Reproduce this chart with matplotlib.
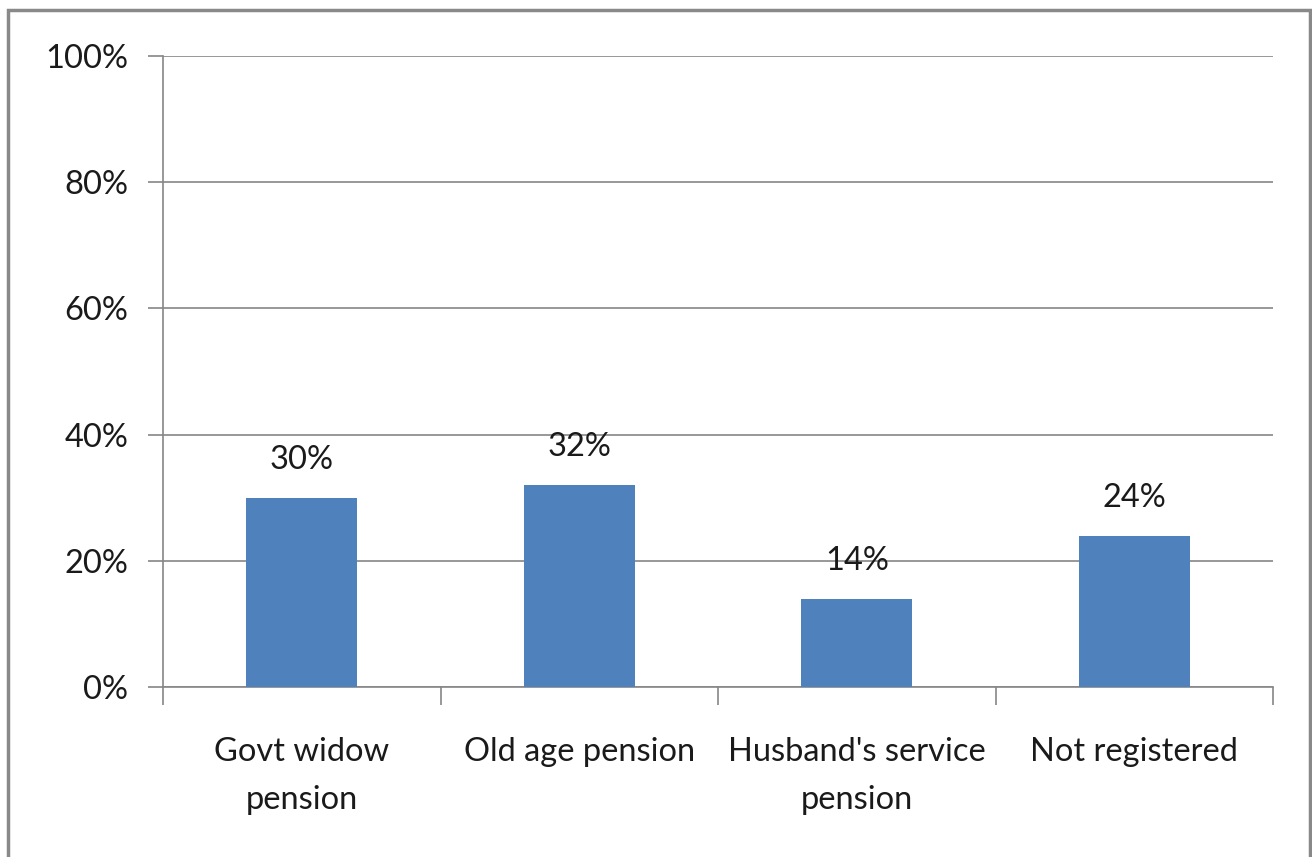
import matplotlib

matplotlib.use("Agg")
import matplotlib.pyplot as plt
from matplotlib.patches import Rectangle
from matplotlib.ticker import MultipleLocator, FuncFormatter

categories = ["Govt widow\npension", "Old age pension", "Husband's service\npension", "Not registered"]
shares = [30, 32, 14, 24]

W, H = 1312, 857
fig = plt.figure(figsize=(W / 100, H / 100), dpi=100)
plt.rcParams["font.family"] = ["Lato", "DejaVu Sans"]

grey = "#868686"
txt = "#1a1a1a"
left, right, top, bottom = 163, 1273, 56, 687
ax = fig.add_axes([left / W, 1 - bottom / H, (right - left) / W, (bottom - top) / H])

x = list(range(len(categories)))
ax.bar(x, shares, width=0.4, color="#4F81BD", zorder=3)
for xi, v in zip(x, shares):
    ax.text(xi, v + 3.6, f"{v}%", ha="center", va="bottom", fontsize=23.5, color=txt)

ax.set_xlim(-0.5, len(categories) - 0.5)
ax.set_ylim(0, 100)
ax.yaxis.set_major_locator(MultipleLocator(20))
ax.yaxis.set_major_formatter(FuncFormatter(lambda v, _: f"{v:.0f}%"))
ax.grid(axis="y", color=grey, lw=1.2, zorder=0)

ax.set_xticks([i - 0.5 for i in range(len(categories) + 1)])
ax.set_xticklabels([])
ax.set_xticks(x, minor=True)
ax.set_xticklabels(categories, minor=True, fontsize=23.5, color=txt, linespacing=1.73)
ax.tick_params(axis="x", which="minor", length=0, pad=36)
ax.tick_params(axis="x", which="major", length=13, width=1.2, color=grey)
ax.tick_params(axis="y", length=11, width=1.2, color=grey, labelsize=23.5, labelcolor=txt, pad=14)

for s in ["top", "right"]:
    ax.spines[s].set_visible(False)
for s in ["left", "bottom"]:
    ax.spines[s].set_color(grey)
    ax.spines[s].set_linewidth(1.2)

fig.patches.append(Rectangle((8 / W, -0.05), 1302 / W, 1.05 - 10 / H,
                             transform=fig.transFigure, fill=False,
                             edgecolor="#898989", lw=2.5))

fig.savefig("out.png", dpi=100)
